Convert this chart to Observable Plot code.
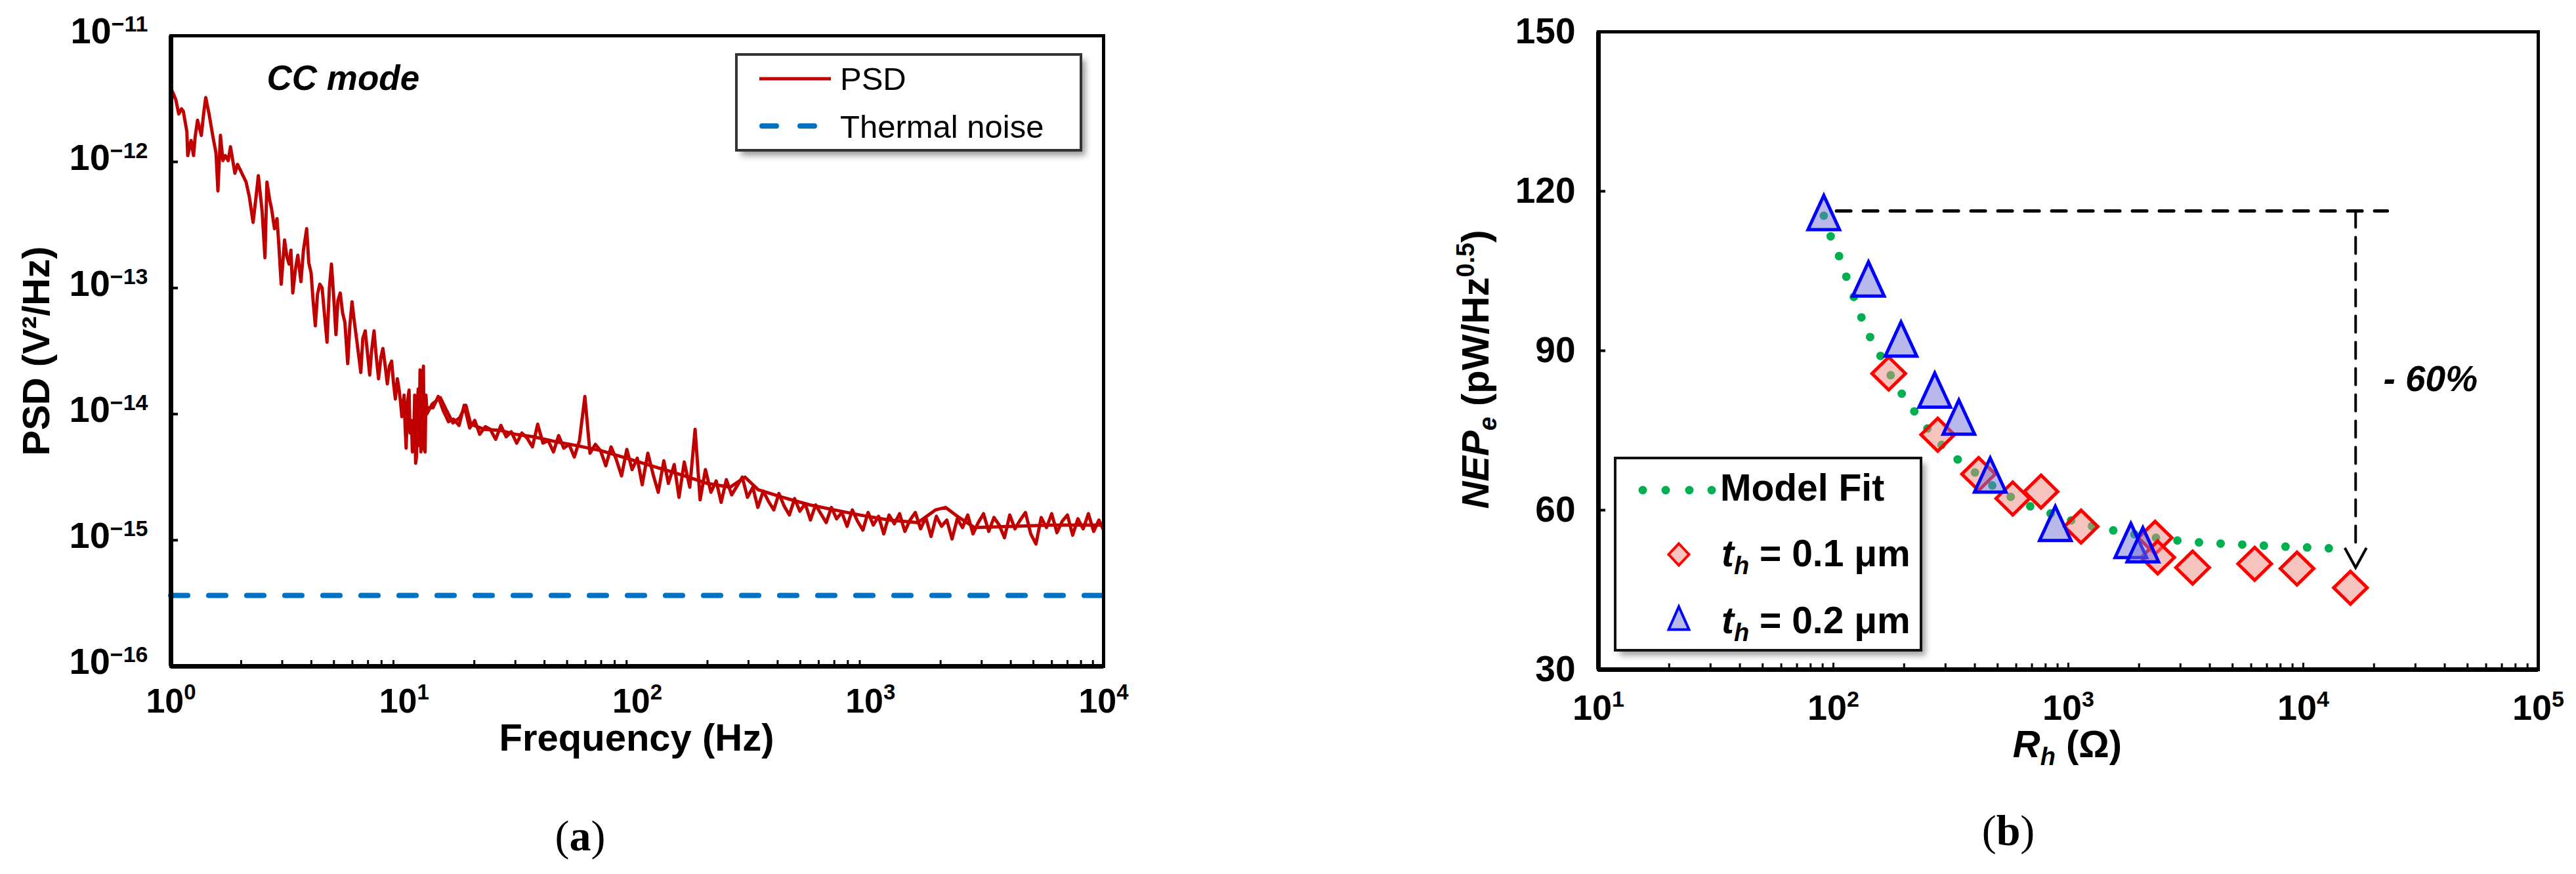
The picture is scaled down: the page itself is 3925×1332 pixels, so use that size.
<!DOCTYPE html>
<html><head><meta charset="utf-8">
<script src="https://cdn.jsdelivr.net/npm/d3@7"></script>
<script src="https://cdn.jsdelivr.net/npm/@observablehq/plot@0.6"></script>
<style>
html,body{margin:0;padding:0;background:#fff;}
#wrap{position:relative;width:3925px;height:1332px;background:#fff;overflow:hidden;font-family:"Liberation Sans",Arial,sans-serif;}
#pa{position:absolute;left:0;top:0;width:1760px;height:1200px;}
#pb{position:absolute;left:2100px;top:0;width:1825px;height:1200px;}
.cap{position:absolute;font-family:"Liberation Serif","Times New Roman",serif;font-size:66px;line-height:1;transform:translate(-50%,-50%);color:#000;}
</style></head><body>
<div id="wrap"><div id="pa"></div><div id="pb"></div>
<div class="cap" style="left:884px;top:1274px">(<b>a</b>)</div>
<div class="cap" style="left:3060px;top:1266px">(<b>b</b>)</div>
</div>
<script>
// ---------------- Panel (a): PSD spectrum ----------------
// Noisy PSD trace: frequency (Hz) and log10 of PSD (V²/Hz)
const psdFreq = [1.00,1.03,1.05,1.08,1.11,1.13,1.17,1.18,1.22,1.25,1.27,1.30,1.35,1.38,1.41,1.46,1.51,1.56,1.59,1.63,1.67,1.71,1.76,1.80,1.88,1.93,1.99,2.05,2.10,2.17,2.25,2.31,2.37,2.46,2.53,2.58,2.65,2.70,2.78,2.85,2.90,2.97,3.07,3.14,3.21,3.27,3.33,3.42,3.50,3.61,3.70,3.82,3.90,3.99,4.07,4.16,4.25,4.35,4.45,4.54,4.67,4.78,4.88,5.00,5.10,5.20,5.32,5.45,5.57,5.73,5.85,5.98,6.10,6.24,6.40,6.52,6.65,6.81,6.95,7.12,7.25,7.43,7.60,7.77,7.95,8.11,8.30,8.47,8.65,8.84,9.00,9.17,9.35,9.49,9.65,9.78,10.0,10.1,10.2,10.35,10.5,10.6,10.75,10.85,10.99,11.1,11.2,11.3,11.4,11.5,11.6,11.7,11.8,11.9,12.0,12.1,12.2,12.3,12.4,12.5,
13.3,14.0,14.7,15.5,16.3,17.2,18.1,19.1,20.1,21.1,22.3,23.4,24.7,26.0,27.4,28.8,30.4,32.0,33.7,35.5,37.4,39.4,41.5,43.7,46.0,48.4,51.0,53.7,56.5,59.6,62.7,66.1,69.6,73.3,77.2,81.3,85.6,90.2,95.0,100,105,111,117,123,130,136,144,151,159,168,177,186,196,207,218,229,241,254,268,282,297,313,329,347,365,385,405,427,449,473,498,525,553,582,613,646,680,716,754,794,836,881,928,977,1029,1084,1141,1202,1266,1334,1405,1479,1558,1641,1728,1820,1917,2018,2126,2239,2358,2483,2615,2754,2901,3055,3217,3388,3568,3758,3958,4169,4390,4624,4870,5129,5401,5689,5991,6310,6645,6998,7371,7762,8175,8610,9068,9550,10000];
const psdLog10 = [-11.42,-11.47,-11.51,-11.62,-11.58,-11.60,-11.76,-11.95,-11.83,-11.95,-11.80,-11.67,-11.79,-11.62,-11.49,-11.63,-11.79,-11.93,-12.23,-11.79,-11.99,-11.95,-11.99,-11.88,-12.09,-12.02,-12.07,-12.12,-12.16,-12.28,-12.48,-12.30,-12.11,-12.39,-12.76,-12.16,-12.30,-12.37,-12.53,-12.45,-12.65,-12.97,-12.62,-12.75,-12.81,-12.70,-13.04,-12.85,-12.74,-12.95,-12.70,-12.53,-12.80,-12.88,-13.10,-13.30,-13.05,-12.97,-13.00,-13.18,-13.43,-13.00,-12.81,-13.10,-13.37,-13.10,-13.04,-13.20,-13.27,-13.60,-13.30,-13.11,-13.25,-13.39,-13.55,-13.67,-13.40,-13.34,-13.50,-13.69,-13.50,-13.34,-13.55,-13.72,-13.55,-13.48,-13.62,-13.76,-13.62,-13.58,-13.75,-13.88,-13.72,-13.79,-13.90,-14.02,-13.85,-14.10,-14.27,-13.90,-13.81,-14.15,-14.05,-14.30,-14.20,-13.85,-14.39,-14.34,-13.90,-13.80,-14.25,-13.65,-14.30,-14.15,-13.75,-13.62,-14.28,-14.30,-13.85,-13.95,
-13.95,-13.86,-13.97,-14.06,-14.04,-14.09,-13.93,-14.11,-14.05,-14.16,
-14.10,-14.12,-14.20,-14.09,-14.18,-14.14,-14.23,-14.15,-14.19,-14.26,
-14.08,-14.23,-14.21,-14.30,-14.17,-14.27,-14.24,-14.34,-14.21,-13.86,
-14.31,-14.24,-14.29,-14.41,-14.26,-14.36,-14.49,-14.28,-14.44,-14.35,
-14.56,-14.31,-14.48,-14.62,-14.37,-14.55,-14.40,-14.66,-14.38,-14.58,
-14.12,-14.68,-14.44,-14.62,-14.53,-14.70,-14.52,-14.64,-14.57,-14.50,
-14.66,-14.58,-14.74,-14.61,-14.69,-14.76,-14.63,-14.73,-14.80,-14.67,
-14.77,-14.71,-14.84,-14.72,-14.79,-14.86,-14.74,-14.83,-14.78,-14.89,
-14.76,-14.85,-14.92,-14.78,-14.88,-14.81,-14.95,-14.80,-14.87,-14.79,
-14.93,-14.84,-14.78,-14.91,-14.82,-14.97,-14.81,-14.89,-14.84,-14.99,
-14.83,-14.90,-14.80,-14.95,-14.86,-14.79,-14.93,-14.82,-14.88,-14.98,
-14.80,-14.91,-14.84,-14.78,-14.95,-15.03,-14.82,-14.90,-14.79,-14.94,
-14.85,-14.80,-14.96,-14.83,-14.91,-14.79,-14.93,-14.84,-14.92];
// Second, smoother overlapping PSD trace
const psd2Freq = [12.5,13.2,14.3,15.2,16.2,17.3,18.4,19.3,22,26,30,36,45,55,70,90,120,160,200,250,290,330,420,550,700,900,1200,1600,1900,2100,2400,2800,4000,6000,10000];
const psd2Log10 = [-14.00,-13.92,-13.87,-13.97,-14.07,-14.03,-13.93,-14.08,-14.12,-14.13,-14.16,-14.18,-14.22,-14.25,-14.29,-14.35,-14.42,-14.49,-14.55,-14.58,-14.50,-14.60,-14.66,-14.72,-14.76,-14.80,-14.84,-14.86,-14.76,-14.74,-14.82,-14.90,-14.89,-14.88,-14.88];
const thermalNoise = 3.65e-16;
const xTicksA = [1, 10, 100, 1000, 10000];
const xTickLabelsA = ["10^0", "10^1", "10^2", "10^3", "10^4"];
const yTicksA = [1e-16, 1e-15, 1e-14, 1e-13, 1e-12, 1e-11];
const yTickLabelsA = ["10^−16", "10^−15", "10^−14", "10^−13", "10^−12", "10^−11"];
const seriesA = ["PSD", "Thermal noise"];

// ---------------- Panel (b): NEP vs R_h ----------------
const diamondR   = [172, 278, 415, 580, 765, 1133, 2340, 2400, 3380, 6210, 9400, 15870];
const diamondNEP = [85.7, 74.2, 66.8, 62.2, 63.5, 56.9, 54.8, 51.1, 49.2, 49.9, 49.0, 45.4];
const triangleR   = [91, 141, 194, 270, 342, 465, 880, 1845, 2075];
const triangleNEP = [116.0, 103.5, 92.2, 82.6, 77.5, 66.6, 57.5, 54.3, 53.5];
const fitR   = [91, 98, 107, 115, 124, 134, 147, 166, 181, 206, 235, 314, 369, 480, 650, 813, 1205, 1510, 2900, 5640, 13500];
const fitNEP = [115.4, 111.2, 107.2, 103.2, 99.4, 95.4, 91.6, 87.5, 84.2, 80.5, 77.0, 70.7, 68.3, 64.5, 61.2, 59.6, 57.2, 56.3, 54.3, 53.5, 52.8];
const dropLevelNEP = 116.3;          // level of the first (highest) point
const dropR = [103, 22800];          // horizontal dashed guide
const arrowR = 16700;                // vertical dashed arrow
const arrowNEP = [116.3, 49.2];
const pctLabel = [{R: 21900, NEP: 84.6, label: "- 60%"}];
const xTicksB = [10, 100, 1000, 10000, 100000];
const xTickLabelsB = ["10^1", "10^2", "10^3", "10^4", "10^5"];
const yTicksB = [30, 60, 90, 120, 150];
const seriesB = ["Model Fit", "0.1 μm", "0.2 μm"];

// ---------------- helpers ----------------
const FONT = "Liberation Sans, Arial, sans-serif";
const RED = "#C00000", BLUE = "#0070C0", GREEN = "#00B050";
const SVGNS = "http://www.w3.org/2000/svg";
const minorTicks = (lo, hi) => { const out = []; for (let e = lo; e < hi; e++) for (let m = 2; m <= 9; m++) out.push(m * 10 ** e); return out; };

function supLabels(svg, label, supSize, rise) {
  svg.querySelectorAll(`g[aria-label="${label}"] text`).forEach(el => {
    const s = el.textContent;
    if (!s.includes("^")) return;
    const [b, e] = s.split("^");
    el.textContent = b;
    const t = document.createElementNS(SVGNS, "tspan");
    t.setAttribute("font-size", supSize);
    t.setAttribute("dy", -rise);
    t.textContent = e;
    el.appendChild(t);
  });
}

// ---------------- chart (a) ----------------
const psdMain = psdFreq.map((f, i) => ({f, psd: 10 ** psdLog10[i]})).filter(d => isFinite(d.psd));
const psdSmooth = psd2Freq.map((f, i) => ({f, psd: 10 ** psd2Log10[i]}));

const chartA = Plot.plot({
  width: 1760, height: 1200,
  marginLeft: 260, marginRight: 79, marginTop: 54, marginBottom: 185,
  style: {fontFamily: FONT, background: "transparent", color: "#000", overflow: "visible"},
  x: {type: "log", domain: [xTicksA[0], xTicksA[xTicksA.length - 1]]},
  y: {type: "log", domain: [yTicksA[0], yTicksA[yTicksA.length - 1]]},
  marks: [
    Plot.ruleY([thermalNoise], {stroke: BLUE, strokeWidth: 8, strokeDasharray: "26,32", strokeLinecap: "round"}),
    Plot.line(psdSmooth, {x: "f", y: "psd", stroke: RED, strokeWidth: 5, strokeLinejoin: "round"}),
    Plot.line(psdMain, {x: "f", y: "psd", stroke: RED, strokeWidth: 5, strokeLinejoin: "round"}),
    Plot.frame({stroke: "#000", strokeWidth: 5}),
    Plot.ruleX([xTicksA[0]], {stroke: "#000", strokeWidth: 7}),
    Plot.ruleY([yTicksA[0]], {stroke: "#000", strokeWidth: 7}),
    Plot.axisX({ticks: minorTicks(0, 4), tickSize: -9, strokeWidth: 3, text: null, label: null}),
    Plot.axisX({ticks: xTicksA, tickSize: 0, tickPadding: 34, tickFormat: d => xTickLabelsA[xTicksA.indexOf(d)], fontSize: 52, fontWeight: "bold", label: null}),
    Plot.axisY({ticks: yTicksA, tickSize: -11, strokeWidth: 4, text: null, label: null}),
    Plot.axisY({ticks: yTicksA, tickSize: 0, tickPadding: 35, dy: -6, tickFormat: d => yTickLabelsA[yTicksA.indexOf(d)], fontSize: 56, fontWeight: "bold", label: null}),
    Plot.text(["CC mode"], {frameAnchor: "top-left", dx: 146, dy: 66, fontSize: 53, fontWeight: "bold", fontStyle: "italic", textAnchor: "start", lineAnchor: "middle"})
  ]
});
supLabels(chartA, "x-axis tick label", 33, 20);
supLabels(chartA, "y-axis tick label", 34, 18);
document.getElementById("pa").appendChild(chartA);

{
  const s = d3.select(chartA);
  const f = s.append("defs").append("filter").attr("id", "shadowA").attr("x", "-20%").attr("y", "-20%").attr("width", "140%").attr("height", "140%");
  f.append("feGaussianBlur").attr("stdDeviation", 5);
  const g = s.append("g").attr("font-family", FONT).attr("text-anchor", "start");
  g.append("rect").attr("x", 1129).attr("y", 91).attr("width", 525).attr("height", 146).attr("fill", "#666").attr("opacity", 0.65).attr("filter", "url(#shadowA)");
  g.append("rect").attr("x", 1122).attr("y", 83).attr("width", 525).attr("height", 146).attr("fill", "#fff").attr("stroke", "#333").attr("stroke-width", 4);
  g.append("line").attr("x1", 1157).attr("x2", 1266).attr("y1", 120).attr("y2", 120).attr("stroke", RED).attr("stroke-width", 5);
  g.append("text").attr("x", 1280).attr("y", 137).attr("font-size", 49).attr("text-anchor", "start").text(seriesA[0]);
  g.append("line").attr("x1", 1161).attr("x2", 1242).attr("y1", 192).attr("y2", 192).attr("stroke", BLUE).attr("stroke-width", 8).attr("stroke-dasharray", "22,36").attr("stroke-linecap", "round");
  g.append("text").attr("x", 1280).attr("y", 210).attr("font-size", 49).attr("text-anchor", "start").text(seriesA[1]);
  // axis titles
  s.append("text").attr("transform", "translate(75,535) rotate(-90)").attr("text-anchor", "middle").attr("font-family", FONT).attr("font-weight", "bold").attr("font-size", 58).text("PSD (V²/Hz)");
  s.append("text").attr("x", 970).attr("y", 1144).attr("text-anchor", "middle").attr("font-family", FONT).attr("font-weight", "bold").attr("font-size", 58).text("Frequency (Hz)");
}

// ---------------- chart (b) ----------------
const diamonds = diamondR.map((R, i) => ({R, NEP: diamondNEP[i]}));
const triangles = triangleR.map((R, i) => ({R, NEP: triangleNEP[i]}));
const fit = fitR.map((R, i) => ({R, NEP: fitNEP[i]}));
const dropH = dropR.map(R => ({R, NEP: dropLevelNEP}));
const dropV = [{R: arrowR, NEP: arrowNEP[0]}, {R: arrowR, NEP: arrowNEP[1] + 4}];
const arrowTip = [{R: arrowR, NEP: arrowNEP[1]}];

const diamondSym = {draw(c) { c.moveTo(0, -25); c.lineTo(25.5, 0); c.lineTo(0, 25); c.lineTo(-25.5, 0); c.closePath(); }};
const triangleSym = {draw(c) { c.moveTo(0, -26); c.lineTo(24, 26); c.lineTo(-24, 26); c.closePath(); }};
const vHeadSym = {draw(c) { c.moveTo(-16.5, -30); c.lineTo(0, 0); c.lineTo(16.5, -30); }};

const chartB = Plot.plot({
  width: 1825, height: 1200,
  marginLeft: 335, marginRight: 58, marginTop: 48, marginBottom: 180,
  style: {fontFamily: FONT, background: "transparent", color: "#000", overflow: "visible"},
  x: {type: "log", domain: [xTicksB[0], xTicksB[xTicksB.length - 1]]},
  y: {domain: [yTicksB[0], yTicksB[yTicksB.length - 1]]},
  marks: [
    Plot.line(dropH, {x: "R", y: "NEP", stroke: "#000", strokeWidth: 5, strokeDasharray: "22,19"}),
    Plot.line(dropV, {x: "R", y: "NEP", stroke: "#000", strokeWidth: 4, strokeDasharray: "25,15"}),
    Plot.dot(arrowTip, {x: "R", y: "NEP", symbol: vHeadSym, r: 10, stroke: "#000", strokeWidth: 4, fill: "none"}),
    Plot.line(fit, {x: "R", y: "NEP", stroke: GREEN, strokeWidth: 13, strokeDasharray: "0,33", strokeLinecap: "round", curve: "monotone-x"}),
    Plot.dot(diamonds, {x: "R", y: "NEP", symbol: diamondSym, r: 10, stroke: "#FF0000", strokeWidth: 5, fill: "#EE8A80", fillOpacity: 0.5}),
    Plot.dot(triangles, {x: "R", y: "NEP", symbol: triangleSym, r: 10, stroke: "#0000FF", strokeWidth: 5, fill: "#7272D6", fillOpacity: 0.5}),
    Plot.text(pctLabel, {x: "R", y: "NEP", text: "label", fontSize: 55, fontWeight: "bold", fontStyle: "italic", textAnchor: "start"}),
    Plot.frame({stroke: "#000", strokeWidth: 5}),
    Plot.ruleX([xTicksB[0]], {stroke: "#000", strokeWidth: 7}),
    Plot.ruleY([yTicksB[0]], {stroke: "#000", strokeWidth: 7}),
    Plot.axisX({ticks: minorTicks(1, 5), tickSize: -9, strokeWidth: 3, text: null, label: null}),
    Plot.axisX({ticks: xTicksB, tickSize: -10, strokeWidth: 3, text: null, label: null}),
    Plot.axisX({ticks: xTicksB, tickSize: 0, tickPadding: 38, tickFormat: d => xTickLabelsB[xTicksB.indexOf(d)], fontSize: 54, fontWeight: "bold", label: null}),
    Plot.axisY({ticks: yTicksB, tickSize: -11, strokeWidth: 4, text: null, label: null}),
    Plot.axisY({ticks: yTicksB, tickSize: 0, tickPadding: 35, fontSize: 55, fontWeight: "bold", label: null})
  ]
});
supLabels(chartB, "x-axis tick label", 34, 20);
document.getElementById("pb").appendChild(chartB);

{
  const s = d3.select(chartB);
  const f = s.append("defs").append("filter").attr("id", "shadowB").attr("x", "-20%").attr("y", "-20%").attr("width", "140%").attr("height", "140%");
  f.append("feGaussianBlur").attr("stdDeviation", 5);
  const g = s.append("g").attr("font-family", FONT).attr("font-weight", "bold").attr("text-anchor", "start");
  g.append("rect").attr("x", 368).attr("y", 706).attr("width", 466).attr("height", 293).attr("fill", "#666").attr("opacity", 0.6).attr("filter", "url(#shadowB)");
  g.append("rect").attr("x", 361).attr("y", 698).attr("width", 466).attr("height", 293).attr("fill", "#fff").attr("stroke", "#111").attr("stroke-width", 4);
  [403, 438, 474, 508].forEach(x => g.append("circle").attr("cx", x).attr("cy", 747).attr("r", 6.5).attr("fill", GREEN));
  g.append("text").attr("x", 521).attr("y", 763).attr("font-size", 57).attr("text-anchor", "start").text(seriesB[0]);
  g.append("path").attr("d", "M458,828.5 L473.5,845 L458,861.5 L442.5,845 Z").attr("fill", "#EE8A80").attr("fill-opacity", 0.5).attr("stroke", "#FF0000").attr("stroke-width", 4);
  g.append("path").attr("d", "M458,924.5 L473.5,959.5 L442.5,959.5 Z").attr("fill", "#7272D6").attr("fill-opacity", 0.5).attr("stroke", "#0000FF").attr("stroke-width", 4);
  [[863, seriesB[1]], [965, seriesB[2]]].forEach(([y, lab]) => {
    const t = g.append("text").attr("x", 523).attr("y", y).attr("font-size", 57).attr("text-anchor", "start");
    t.append("tspan").attr("font-style", "italic").text("t");
    t.append("tspan").attr("font-style", "italic").attr("font-size", 38).attr("dy", 12).text("h");
    t.append("tspan").attr("dy", -12).text(" = " + lab);
  });
  // axis titles
  const yt = s.append("text").attr("transform", "translate(168,563) rotate(-90)").attr("text-anchor", "middle").attr("font-family", FONT).attr("font-weight", "bold").attr("font-size", 58);
  yt.append("tspan").attr("font-style", "italic").text("NEP");
  yt.append("tspan").attr("font-style", "italic").attr("font-size", 38).attr("dy", 12).text("e");
  yt.append("tspan").attr("dy", -12).text(" (pW/Hz");
  yt.append("tspan").attr("font-size", 38).attr("dy", -22).text("0.5");
  yt.append("tspan").attr("dy", 22).text(")");
  const xt = s.append("text").attr("x", 1050).attr("y", 1154).attr("text-anchor", "middle").attr("font-family", FONT).attr("font-weight", "bold").attr("font-size", 58);
  xt.append("tspan").attr("font-style", "italic").text("R");
  xt.append("tspan").attr("font-style", "italic").attr("font-size", 38).attr("dy", 12).text("h");
  xt.append("tspan").attr("dy", -12).text(" (Ω)");
}
</script>
</body></html>
